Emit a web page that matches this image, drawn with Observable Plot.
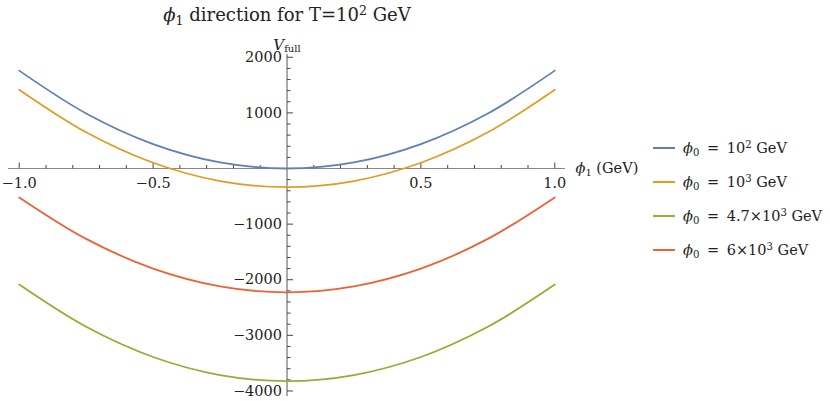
<!DOCTYPE html>
<html>
<head>
<meta charset="utf-8">
<script src="https://cdn.jsdelivr.net/npm/d3@7"></script>
<script src="https://cdn.jsdelivr.net/npm/@observablehq/plot@0.6"></script>
<style>
  html, body { margin: 0; padding: 0; background: #fff; }
  #wrap { position: relative; width: 830px; height: 401px; font-family: "DejaVu Serif", serif; color: #222; }
  #wrap svg { position: absolute; left: 0; top: 0; }
  #title { position: absolute; left: 0; width: 574px; top: 4px; text-align: center; font-size: 18px; line-height: 22px; white-space: nowrap; }
  .sup { font-size: 0.7em; position: relative; top: -0.5em; }
  .sub { font-size: 0.7em; position: relative; top: 0.3em; }
  #legend { position: absolute; left: 653px; top: 131px; font-size: 14.5px; }
  .row { height: 34px; display: flex; align-items: center; white-space: nowrap; }
  .sw { width: 22px; height: 2px; margin-right: 8px; }
  .eq { margin: 0 3px; }
  i { font-style: italic; }
</style>
</head>
<body>
<div id="wrap">
  <div id="title"><i>ϕ</i><span class="sub">1</span> direction for T=10<span class="sup">2</span> GeV</div>
  <div id="legend"></div>
</div>
<script>
// phi_1 values (GeV)
const phi1 = [-1, -0.75, -0.5, -0.25, 0, 0.25, 0.5, 0.75, 1];
// V_full values
const vPhi0_1e2   = [1760, 990, 440, 110, 0, 110, 440, 990, 1760];
const vPhi0_1e3   = [1418, 651, 103, -226, -336, -226, 103, 651, 1418];
const vPhi0_4_7e3 = [-2088, -2847, -3390, -3715, -3824, -3715, -3390, -2847, -2088];
const vPhi0_6e3   = [-520, -1266, -1800, -2119, -2226, -2119, -1800, -1266, -520];

const seriesKeys = ["1e2", "1e3", "4.7e3", "6e3"];
const seriesValues = [vPhi0_1e2, vPhi0_1e3, vPhi0_4_7e3, vPhi0_6e3];
const seriesColors = ["#5E81B5", "#E19C24", "#8FB032", "#EB6235"];
const legendLabels = [
  '<i>ϕ</i><span class="sub">0</span> <span class="eq">=</span> 10<span class="sup">2</span> GeV',
  '<i>ϕ</i><span class="sub">0</span> <span class="eq">=</span> 10<span class="sup">3</span> GeV',
  '<i>ϕ</i><span class="sub">0</span> <span class="eq">=</span> 4.7×10<span class="sup">3</span> GeV',
  '<i>ϕ</i><span class="sub">0</span> <span class="eq">=</span> 6×10<span class="sup">3</span> GeV'
];

const xMajor = [-1, -0.5, 0.5, 1];
const xMajorLabels = ["−1.0", "−0.5", "0.5", "1.0"];
const xMinor = [-0.9, -0.8, -0.7, -0.6, -0.4, -0.3, -0.2, -0.1, 0.1, 0.2, 0.3, 0.4, 0.6, 0.7, 0.8, 0.9];
const yMajor = [2000, 1000, -1000, -2000, -3000, -4000];
const yMajorLabels = ["2000", "1000", "−1000", "−2000", "−3000", "−4000"];
const yMinor = [1800, 1600, 1400, 1200, 800, 600, 400, 200, -200, -400, -600, -800,
  -1200, -1400, -1600, -1800, -2200, -2400, -2600, -2800, -3200, -3400, -3600, -3800];

const data = [];
seriesKeys.forEach((k, i) => phi1.forEach((x, j) => data.push({series: k, x, v: seriesValues[i][j]})));

const tickUp = {draw(ctx, size) { const l = Math.sqrt(size / Math.PI); ctx.moveTo(0, 0); ctx.lineTo(0, -l); }};
const tickRight = {draw(ctx, size) { const l = Math.sqrt(size / Math.PI); ctx.moveTo(0, 0); ctx.lineTo(l, 0); }};

const font = "DejaVu Serif";
const tickColor = "#444";
const fs = 14.5;

const chart = Plot.plot({
  width: 830,
  height: 401,
  marginLeft: 8,
  marginRight: 265,
  marginTop: 54,
  marginBottom: 5,
  x: {domain: [-1.04, 1.04], axis: null},
  y: {domain: [-4100, 2050], axis: null},
  color: {domain: seriesKeys, range: seriesColors},
  style: {fontFamily: font, background: "transparent", overflow: "visible"},
  marks: [
    Plot.ruleY([0], {stroke: "#888", strokeWidth: 1}),
    Plot.ruleX([0], {stroke: "#555", strokeWidth: 1}),
    Plot.dot(xMajor, {x: d => d, y: () => 0, symbol: tickUp, r: 6, stroke: tickColor, fill: "none", strokeWidth: 1}),
    Plot.dot(xMinor, {x: d => d, y: () => 0, symbol: tickUp, r: 3.5, stroke: tickColor, fill: "none", strokeWidth: 1}),
    Plot.dot(yMajor, {x: () => 0, y: d => d, symbol: tickRight, r: 6, stroke: tickColor, fill: "none", strokeWidth: 1}),
    Plot.dot(yMinor, {x: () => 0, y: d => d, symbol: tickRight, r: 3.5, stroke: tickColor, fill: "none", strokeWidth: 1}),
    Plot.text(xMajor, {x: d => d, y: () => 0, text: (d, i) => xMajorLabels[i], dy: 15, fontSize: fs, fill: "#222"}),
    Plot.text(yMajor, {x: () => 0, y: d => d, text: (d, i) => yMajorLabels[i], textAnchor: "end", dx: -5, fontSize: fs, fill: "#222"}),
    Plot.line(data, {x: "x", y: "v", z: "series", stroke: "series", strokeWidth: 1.8, curve: "catmull-rom"}),
    Plot.text(["Vfull"], {x: () => 0, frameAnchor: "top", dy: -15, text: d => d, fontSize: 15, fill: "#222"}),
    Plot.text(["phi1lab"], {y: () => 0, frameAnchor: "right", textAnchor: "start", dx: 10, text: d => d, fontSize: fs, fill: "#222"})
  ]
});

document.getElementById("wrap").appendChild(chart);

d3.select(chart).selectAll("text").each(function() {
  const t = this.textContent;
  if (t === "Vfull") {
    d3.select(this).html('<tspan font-style="italic">V</tspan><tspan font-size="10" dy="2">full</tspan>');
  } else if (t === "phi1lab") {
    d3.select(this).html('<tspan font-style="italic">ϕ</tspan><tspan font-size="10" dy="3">1</tspan><tspan dy="-3"> (GeV)</tspan>');
  }
});

const legend = d3.select("#legend");
seriesKeys.forEach((k, i) => {
  const row = legend.append("div").attr("class", "row");
  row.append("div").attr("class", "sw").style("background", seriesColors[i]);
  row.append("div").html(legendLabels[i]);
});
</script>
</body>
</html>
